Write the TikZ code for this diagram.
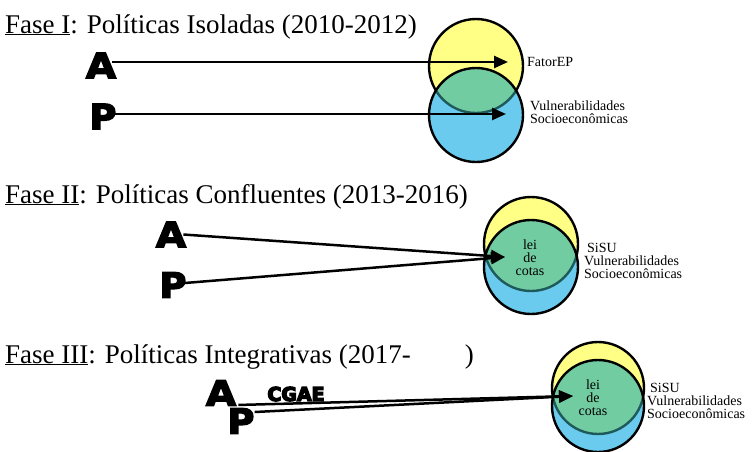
\documentclass[tikz,border=0pt]{standalone}
\usepackage{fontspec}
\setmainfont{Liberation Serif}
\newfontfamily\heavyfont{DejaVu Sans Bold}
\usetikzlibrary{arrows.meta}
\definecolor{yel}{HTML}{FFFF85}
\definecolor{blu}{HTML}{6ACBEF}
\definecolor{grn}{HTML}{72CCA2}
\definecolor{tealarc}{HTML}{1E5A5A}
\newcommand{\heavytext}[1]{\special{pdf:literal 2 Tr 1.3 w}#1\special{pdf:literal 0 Tr}}
\newcommand{\vennpair}[4]{%
  \fill[yel] (#1,#2) circle[radius=#4pt];
  \draw[ring] (#1,#2) circle[radius=#4pt];
  \fill[blu] (#1,#3) circle[radius=#4pt];
  \begin{scope}\clip (#1,#2) circle[radius=#4pt]; \fill[grn] (#1,#3) circle[radius=#4pt];\end{scope}
  \begin{scope}\clip (#1,#3) circle[radius=#4pt]; \draw[ring,tealarc] (#1,#2) circle[radius=#4pt];\end{scope}
  \draw[ring] (#1,#3) circle[radius=#4pt];
}
\begin{document}
\begin{tikzpicture}[x=1pt,y=-1pt,
  title/.style={anchor=base west, inner sep=0pt, font=\fontsize{27}{30}\selectfont},
  big/.style={inner sep=0pt, font=\heavyfont\fontsize{35}{35}\selectfont},
  lbl/.style={anchor=west, inner sep=0pt, align=left, font=\fontsize{14}{13}\selectfont},
  mid/.style={inner sep=0pt, align=center, font=\fontsize{14}{13}\selectfont},
  arr/.style={line width=2.5pt, -{Triangle[length=14pt,width=12pt]}},
  ring/.style={line width=2.4pt}]
\useasboundingbox (0,0) rectangle (755,451);
% titles
\node[title] (t1) at (5,33) {\underline{Fase I}: Políticas Isoladas (2010-2012)};
\node[title] (t2) at (5,203) {\underline{Fase II}: Políticas Confluentes (2013-2016)};
\node[title] (t3) at (5,363) {\underline{Fase III}: Políticas Integrativas (2017-\hspace{54pt})};
% venn diagrams
\vennpair{476}{66}{115}{47}
\vennpair{531}{244}{267}{47}
\vennpair{598}{388}{406}{46}
% phase I
\node[big] (A1) at (101,65.5) {\heavytext{\scalebox{1.12}[1]{A}}};
\node[big] (P1) at (103,116.5) {\heavytext{\scalebox{1.05}[1]{P}}};
\coordinate (e1a) at (508,62);
\coordinate (e1p) at (506,114);
\draw[arr] ([xshift=-4pt]A1.east |- e1a) -- (e1a);
\draw[arr] ([xshift=-2pt]P1.east |- e1p) -- (e1p);
\node[lbl] (f1) at (527,62) {FatorEP};
\node[lbl] (v1) at (530,112.5) {Vulnerabilidades\\Socioeconômicas};
% phase II
\node[big] (A2) at (171,234.5) {\heavytext{\scalebox{1.12}[1]{A}}};
\node[big] (P2) at (173,285) {\heavytext{\scalebox{1.05}[1]{P}}};
\coordinate (e2) at (505,257);
\draw[arr] ([xshift=-3pt]A2.east) -- (e2);
\draw[arr] ([xshift=-2pt,yshift=2pt]P2.east) -- (e2);
\node[mid] (c2) at (530,258) {lei\\de\\cotas};
\node[lbl] (v2) at (584,261) {\hspace{3pt}SiSU\\Vulnerabilidades\\Socioeconômicas};
% phase III
\node[big] (A3) at (221,393) {\heavytext{\scalebox{1.12}[1]{A}}};
\node[big] (P3) at (241,421) {\heavytext{\scalebox{1.05}[1]{P}}};
\node[inner sep=0pt, font=\heavyfont\fontsize{19}{19}\selectfont] (g3) at (296,394) {\heavytext{CGAE}};
\coordinate (e3) at (573,396);
\draw[arr] ([xshift=2pt,yshift=1pt]A3.south east) -- (e3);
\draw[arr] ([yshift=9pt]P3.east) -- (e3);
\node[mid] (c3) at (593,398) {lei\\de\\cotas};
\node[lbl] (v3) at (647,401) {\hspace{3pt}SiSU\\Vulnerabilidades\\Socioeconômicas};
\end{tikzpicture}
\end{document}
